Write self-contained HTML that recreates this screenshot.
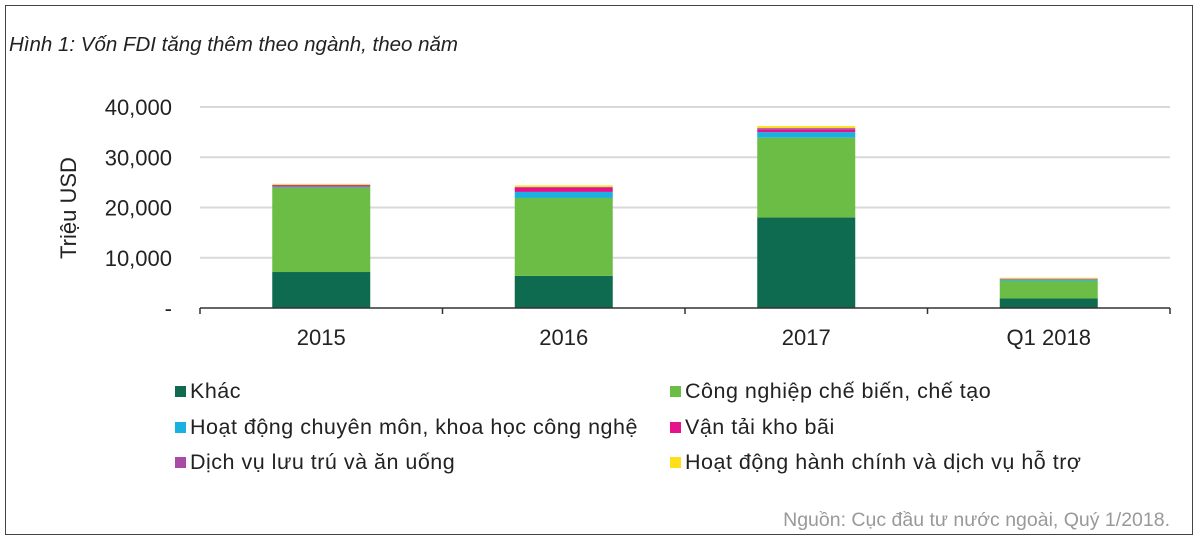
<!DOCTYPE html>
<html><head><meta charset="utf-8"><style>
body{margin:0;width:1200px;height:541px;background:#fff;font-family:"Liberation Sans",Arial,sans-serif;overflow:hidden}
#frame{position:absolute;left:5px;top:5px;width:1188px;height:530px;border:1px solid #444;box-sizing:border-box}
</style></head><body>
<div id="frame"></div>
<svg id="c" width="1200" height="541" style="position:absolute;left:0;top:0"></svg>
<script>
const categories=["2015","2016","2017","Q1 2018"];
const seriesNames=["Khác","Công nghiệp chế biến, chế tạo","Hoạt động chuyên môn, khoa học công nghệ","Vận tải kho bãi","Dịch vụ lưu trú và ăn uống","Hoạt động hành chính và dịch vụ hỗ trợ"];
const khac=[7160,6400,18000,1900];
const congNghiep=[16800,15500,15900,3500];
const chuyenMon=[150,1200,1100,250];
const vanTai=[150,800,500,80];
const dichVu=[250,200,300,100];
const hanhChinh=[200,300,400,200];
const yTicks=[0,10000,20000,30000,40000];
const yTickLabels=["-","10,000","20,000","30,000","40,000"];
const colors=["#0e6b4f","#6bbd45","#1ab0e0","#e4138b","#a84aa6","#ffdf1a"];
const series=[khac,congNghiep,chuyenMon,vanTai,dichVu,hanhChinh];
const svg=document.getElementById('c');const NS="http://www.w3.org/2000/svg";
function mk(t,a,txt){const e=document.createElementNS(NS,t);for(const k in a)e.setAttribute(k,a[k]);if(txt!=null)e.textContent=txt;svg.appendChild(e);return e;}
const x0=200,x1=1170,y0=308,y1=107,ymax=40000;
const y=v=>y0-(v/ymax)*(y0-y1);
const bw=(x1-x0)/categories.length;
const xc=i=>x0+bw*(i+0.5);
let t=mk('text',{x:9,y:51,'font-size':20.5,'font-style':'italic',fill:'#222'},'Hình 1: Vốn FDI tăng thêm theo ngành, theo năm');

yTicks.forEach((v,i)=>{
  if(v>0){const g=mk('line',{x1:x0,x2:x1,y1:y(v),y2:y(v),stroke:'#d9d9d9','stroke-width':2});
  }
  const l=mk('text',{x:172,y:y(v)+8,'font-size':22,'text-anchor':'end',fill:'#222'},yTickLabels[i]);
  
});
t=mk('text',{x:0,y:0,'font-size':22,fill:'#222','text-anchor':'middle',transform:'translate(76,208) rotate(-90)'},'Triệu  USD');

categories.forEach((c,i)=>{
  let acc=0;
  series.forEach((s,k)=>{
    const r=mk('rect',{x:xc(i)-49,width:98,y:y(acc+s[i]),height:y(acc)-y(acc+s[i]),fill:colors[k]});
    
    acc+=s[i];
  });
  const l=mk('text',{x:xc(i),y:345,'font-size':22,'text-anchor':'middle',fill:'#222'},c);
  
});
t=mk('line',{x1:x0,x2:x1,y1:y0,y2:y0,stroke:'#333','stroke-width':1.5});

for(let i=0;i<=categories.length;i++){const tk=mk('line',{x1:x0+bw*i,x2:x0+bw*i,y1:y0,y2:y0+6,stroke:'#333','stroke-width':1.5});
}
const lx=[175,670],ly=[397,433,468];
seriesNames.forEach((n,k)=>{
  const cx=lx[k%2],cy=ly[Math.floor(k/2)];
  const r=mk('rect',{x:cx,y:cy-11,width:11,height:11,fill:colors[k]});
  
  const l=mk('text',{x:cx+15,y:cy+1,'font-size':21.5,'letter-spacing':0.5,fill:'#222'},n);
  
});
t=mk('text',{x:1170,y:526,'font-size':19.5,'text-anchor':'end',fill:'#999'},'Nguồn: Cục đầu tư nước ngoài, Quý 1/2018.');

</script>
</body></html>
